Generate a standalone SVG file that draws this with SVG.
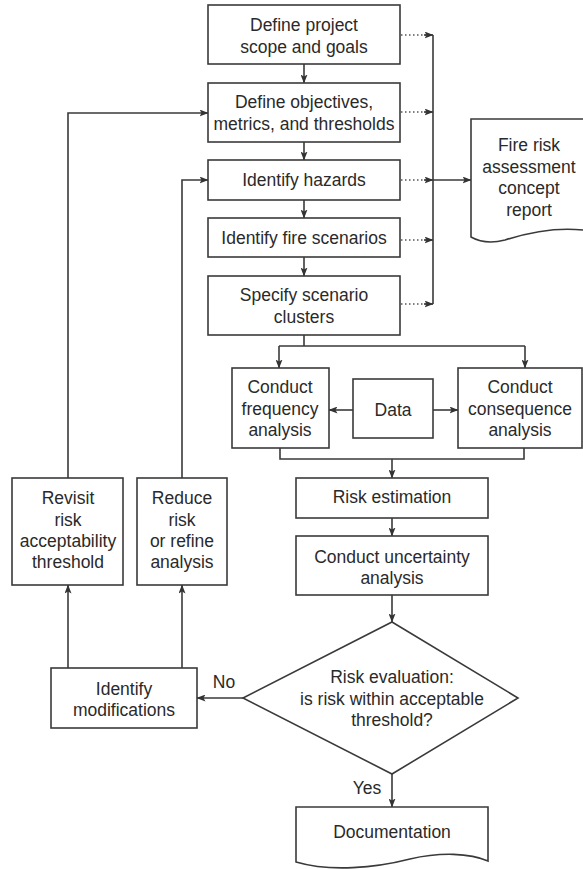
<svg xmlns="http://www.w3.org/2000/svg" width="583" height="869" viewBox="0 0 583 869">
<defs>
<marker id="ah" markerWidth="9" markerHeight="7" refX="8.5" refY="3.5" orient="auto" markerUnits="userSpaceOnUse">
<path d="M0,0 L9,3.5 L0,7 L2,3.5 z" fill="#333"/>
</marker>
</defs>
<style>
.b{fill:#fff;stroke:#3a3a3a;stroke-width:1.6}
.t{font-family:"Liberation Sans",Arial,sans-serif;font-size:17.5px;fill:#2a2a2a;text-anchor:middle}
.c{fill:none;stroke:#3a3a3a;stroke-width:1.6}
.a{marker-end:url(#ah)}
.d{fill:none;stroke:#555;stroke-width:1.5;stroke-dasharray:1.5 2.5}
</style>
<rect width="583" height="869" fill="#fff"/>

<g id="connectors">
<path class="c a" d="M304,64 V83"/>
<path class="c a" d="M304,142 V160"/>
<path class="c a" d="M304,200 V218"/>
<path class="c a" d="M304,257 V276"/>
<path class="d" d="M401,35 H426"/>
<path class="d" d="M401,112 H426"/>
<path class="d" d="M401,180 H426"/>
<path class="d" d="M401,240 H426"/>
<path class="d" d="M401,304 H426"/>
<path class="c a" d="M424,35 H433"/>
<path class="c a" d="M424,112 H433"/>
<path class="c a" d="M424,180 H433"/>
<path class="c a" d="M424,240 H433"/>
<path class="c a" d="M424,304 H433"/>
<path class="c" d="M433,35 V304"/>
<path class="c a" d="M433,180 H471"/>
<path class="c" d="M304,335 V346 M279,346 H525"/>
<path class="c a" d="M279,346 V368"/>
<path class="c a" d="M525,346 V368"/>
<path class="c a" d="M353,410 H329"/>
<path class="c a" d="M433,410 H458"/>
<path class="c" d="M280,448 V459 H524 V448"/>
<path class="c a" d="M392,459 V478"/>
<path class="c a" d="M392,518 V536"/>
<path class="c a" d="M392,595 V622"/>
<path class="c a" d="M392,774 V807"/>
<path class="c a" d="M243,698 H197"/>
<path class="c a" d="M68,668 V585"/>
<path class="c a" d="M182,668 V585"/>
<path class="c a" d="M68,478 V113 H208"/>
<path class="c a" d="M182,478 V180 H208"/>
<text class="t" x="224" y="688">No</text>
<text class="t" x="367" y="794">Yes</text>
</g>

<g id="n1"><rect class="b" x="208" y="5" width="192" height="59"/>
<text class="t" x="304" y="31">Define project</text><text class="t" x="304" y="53">scope and goals</text></g>
<g id="n2"><rect class="b" x="208" y="83" width="192" height="59"/>
<text class="t" x="304" y="108">Define objectives,</text><text class="t" x="304" y="130">metrics, and thresholds</text></g>
<g id="n3"><rect class="b" x="208" y="160" width="192" height="40"/>
<text class="t" x="304" y="186">Identify hazards</text></g>
<g id="n4"><rect class="b" x="208" y="218" width="192" height="39"/>
<text class="t" x="304" y="244">Identify fire scenarios</text></g>
<g id="n5"><rect class="b" x="208" y="276" width="192" height="59"/>
<text class="t" x="304" y="301">Specify scenario</text><text class="t" x="304" y="323">clusters</text></g>
<g id="report"><path class="b" d="M471,119 H590 V231 C560,226 530,232 505,240 C490,244 478,241 471,237 Z"/>
<text class="t" x="529" y="151">Fire risk</text><text class="t" x="529" y="173">assessment</text><text class="t" x="529" y="194">concept</text><text class="t" x="529" y="216">report</text></g>
<g id="freq"><rect class="b" x="232" y="368" width="97" height="80"/>
<text class="t" x="280" y="393">Conduct</text><text class="t" x="280" y="415">frequency</text><text class="t" x="280" y="436">analysis</text></g>
<g id="data"><rect class="b" x="353" y="379" width="80" height="59"/>
<text class="t" x="393" y="416">Data</text></g>
<g id="cons"><rect class="b" x="458" y="368" width="124" height="80"/>
<text class="t" x="520" y="393">Conduct</text><text class="t" x="520" y="415">consequence</text><text class="t" x="520" y="436">analysis</text></g>
<g id="risk"><rect class="b" x="296" y="478" width="192" height="40"/>
<text class="t" x="392" y="503">Risk estimation</text></g>
<g id="unc"><rect class="b" x="296" y="536" width="192" height="59"/>
<text class="t" x="392" y="563">Conduct uncertainty</text><text class="t" x="392" y="584">analysis</text></g>
<g id="eval"><path class="b" d="M392,622 L518,698 L392,774 L243,698 Z"/>
<text class="t" x="392" y="683">Risk evaluation:</text><text class="t" x="392" y="705">is risk within acceptable</text><text class="t" x="392" y="726">threshold?</text></g>
<g id="doc"><path class="b" d="M296,807 H488 V861 C470,853 440,852 410,859 C375,868 330,872 296,862 Z"/>
<text class="t" x="392" y="838">Documentation</text></g>
<g id="mods"><rect class="b" x="51" y="668" width="146" height="60"/>
<text class="t" x="124" y="695">Identify</text><text class="t" x="124" y="716">modifications</text></g>
<g id="revisit"><rect class="b" x="12" y="478" width="111" height="107"/>
<text class="t" x="68" y="504">Revisit</text><text class="t" x="68" y="526">risk</text><text class="t" x="68" y="547">acceptability</text><text class="t" x="68" y="568">threshold</text></g>
<g id="reduce"><rect class="b" x="137" y="478" width="90" height="107"/>
<text class="t" x="182" y="504">Reduce</text><text class="t" x="182" y="526">risk</text><text class="t" x="182" y="547">or refine</text><text class="t" x="182" y="568">analysis</text></g>
</svg>
